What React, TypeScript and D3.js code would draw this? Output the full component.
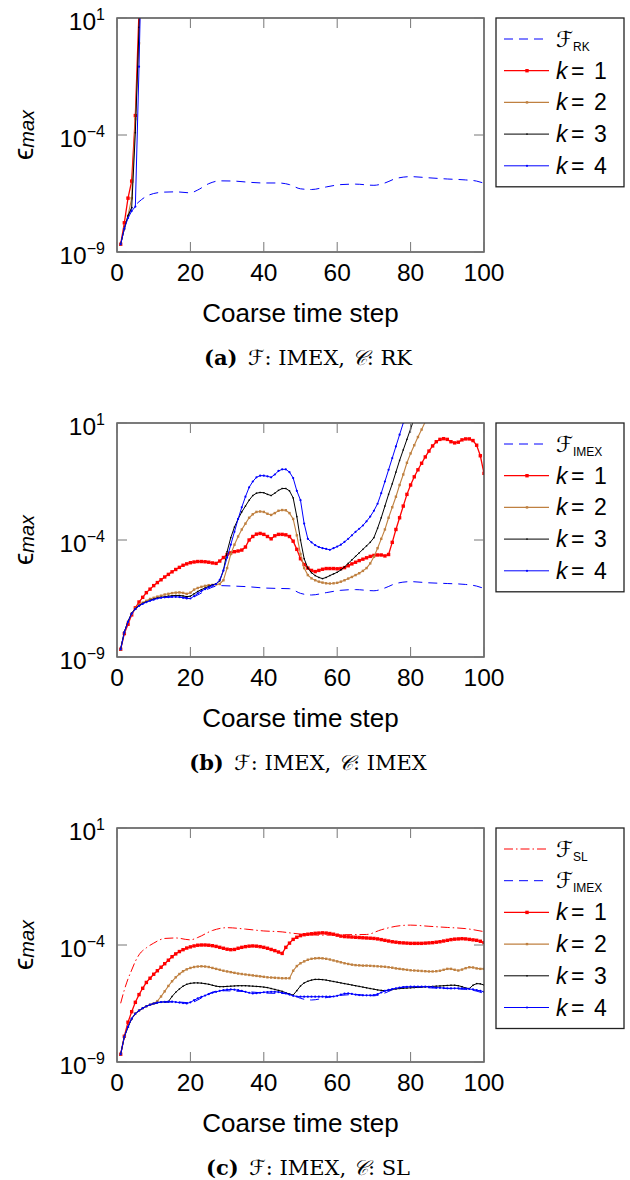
import React from "react";
import * as d3 from "d3";

// ---- data (values are log10 of eps_max) ----
const steps = d3.range(1, 101);
const xTicks = [0, 20, 40, 60, 80, 100];
const yTickExps = [1, -4, -9];

const fineSteps = [1, 2, 3, 4, 5, 6, 8, 10, 13, 16, 20, 22, 25, 28, 32, 36, 40, 44, 47, 50, 53, 57, 61, 65, 70, 73, 76, 80, 85, 90, 95, 98, 100];
const rkFineLog = [-8.67, -7.95, -7.5, -7.15, -7.0, -6.85, -6.62, -6.5, -6.44, -6.43, -6.47, -6.35, -6.08, -5.96, -5.97, -6.02, -6.05, -6.05, -6.12, -6.3, -6.33, -6.22, -6.12, -6.1, -6.15, -6.05, -5.86, -5.78, -5.83, -5.88, -5.92, -5.97, -6.06];
const imexFineLog = [-8.67, -7.95, -7.5, -7.15, -6.95, -6.82, -6.64, -6.52, -6.45, -6.43, -6.47, -6.35, -6.08, -5.95, -5.97, -6.0, -6.05, -6.07, -6.08, -6.28, -6.35, -6.25, -6.15, -6.12, -6.17, -6.05, -5.86, -5.78, -5.83, -5.86, -5.9, -5.97, -6.07];

const slFineSteps = [1, 2, 3, 4, 5, 6, 8, 10, 13, 16, 20, 22, 26, 30, 35, 40, 45, 48, 52, 56, 62, 68, 72, 76, 80, 85, 90, 95, 100];
const slFineLog = [-6.49, -5.92, -5.45, -5.07, -4.7, -4.42, -4.12, -3.92, -3.72, -3.7, -3.78, -3.68, -3.38, -3.26, -3.32, -3.4, -3.44, -3.5, -3.56, -3.58, -3.56, -3.55, -3.35, -3.2, -3.15, -3.2, -3.25, -3.3, -3.43];

// (a) coarse RK
const rkK1Log = [-8.67, -7.75, -6.7, -5.97, -3.17, 1.3];
const rkK2Log = [-8.67, -8.0, -7.45, -6.7, -3.32, -0.08, 6];
const rkK3Log = [-8.67, -8.0, -7.45, -7.1, -3.9, 0.6, 6];
const rkK4Log = [-8.67, -8.0, -7.55, -7.25, -7.06, -1.08, 6];

// (b) coarse IMEX
const imexK1Log = [
  -8.67, -8.0, -7.6, -7.2, -6.9, -6.65, -6.45, -6.25, -6.1, -5.95,
  -5.82, -5.7, -5.58, -5.47, -5.36, -5.26, -5.17, -5.08, -5.02, -4.97,
  -4.94, -4.92, -4.92, -4.93, -4.95, -4.98, -5.0, -4.9, -4.75, -4.62,
  -4.55, -4.5, -4.47, -4.43, -4.3, -4.0, -3.85, -3.75, -3.72, -3.76,
  -3.85, -3.95, -3.82, -3.76, -3.76, -3.78, -3.85, -4.05, -4.4, -4.8,
  -5.05, -5.2, -5.3, -5.35, -5.3, -5.25, -5.22, -5.22, -5.22, -5.23,
  -5.22, -5.18, -5.1, -5.02, -4.95, -4.88, -4.82, -4.76, -4.7, -4.66,
  -4.64, -4.64, -4.68, -4.62, -4.1, -3.55, -3.05, -2.55, -2.05, -1.65,
  -1.3, -1.0, -0.72, -0.45, -0.2, 0.02, 0.2, 0.3, 0.33, 0.3,
  0.2, 0.15, 0.18, 0.28, 0.32, 0.32, 0.25, 0.05, -0.4, -1.15,
];
const imexK2Log = [
  -8.67, -7.95, -7.5, -7.15, -6.93, -6.78, -6.68, -6.6, -6.52, -6.47,
  -6.42, -6.38, -6.33, -6.3, -6.27, -6.25, -6.24, -6.26, -6.3, -6.25,
  -6.12, -6.05, -6.0, -5.96, -5.93, -5.92, -5.9, -5.88, -5.72, -5.2,
  -4.6, -4.2, -3.85, -3.55, -3.3, -3.05, -2.9, -2.8, -2.78, -2.8,
  -2.88, -2.93, -2.85, -2.75, -2.72, -2.73, -2.85, -3.1, -3.8, -4.6,
  -5.2, -5.5, -5.64, -5.72, -5.78, -5.82, -5.85, -5.86, -5.85, -5.83,
  -5.78, -5.72, -5.65, -5.58, -5.5, -5.42, -5.32, -5.2, -5.0, -4.72,
  -4.35, -3.95, -3.55, -3.05, -2.6, -2.15, -1.65, -1.2, -0.7, -0.3,
  0.05, 0.4, 0.72, 1.05, 1.4,
];
const imexK3Log = [
  -8.65, -7.93, -7.48, -7.13, -6.93, -6.8, -6.71, -6.64, -6.58, -6.53,
  -6.48, -6.45, -6.42, -6.4, -6.38, -6.37, -6.37, -6.39, -6.42, -6.4,
  -6.3, -6.2, -6.12, -6.05, -5.98, -5.92, -5.87, -5.75, -5.3, -4.5,
  -3.9, -3.45, -3.1, -2.8, -2.55, -2.3, -2.1, -2.0, -1.97, -1.98,
  -2.05, -2.1, -2.0, -1.88, -1.8, -1.8, -1.9, -2.2, -3.0, -4.0,
  -4.8, -5.2, -5.4, -5.52, -5.6, -5.65, -5.6, -5.52, -5.45, -5.38,
  -5.28, -5.15, -5.0, -4.85, -4.7, -4.55, -4.4, -4.25, -4.1, -3.9,
  -3.5, -3.05, -2.55, -2.05, -1.6, -1.1, -0.6, -0.15, 0.3, 0.75,
  1.2,
];
const imexK4Log = [
  -8.67, -7.95, -7.5, -7.15, -6.95, -6.82, -6.73, -6.66, -6.6, -6.55,
  -6.5, -6.47, -6.45, -6.44, -6.43, -6.43, -6.44, -6.47, -6.5, -6.5,
  -6.4, -6.28, -6.18, -6.1, -6.02, -5.95, -5.88, -5.7, -5.3, -4.75,
  -4.2, -3.65, -3.1, -2.6, -2.15, -1.75, -1.5, -1.32, -1.25, -1.25,
  -1.28, -1.32, -1.2, -1.05, -0.98, -0.98, -1.1, -1.35, -1.9, -2.3,
  -3.3, -3.95, -4.1, -4.22, -4.3, -4.35, -4.38, -4.42, -4.35, -4.28,
  -4.2, -4.08, -3.95, -3.8, -3.65, -3.52, -3.38, -3.2, -3.0, -2.75,
  -2.45, -2.0, -1.5, -1.0, -0.5, 0.0, 0.5, 1.0, 1.5,
];

// (c) coarse SL
const slK1Log = [
  -8.67, -7.9, -7.3, -6.85, -6.45, -6.12, -5.85, -5.6, -5.42, -5.25,
  -5.1, -4.95, -4.8, -4.65, -4.5, -4.38, -4.28, -4.2, -4.13, -4.08,
  -4.04, -4.01, -4.0, -4.0, -4.01, -4.03, -4.06, -4.1, -4.14, -4.18,
  -4.2, -4.19, -4.14, -4.1, -4.07, -4.05, -4.04, -4.05, -4.07, -4.1,
  -4.14, -4.19, -4.24, -4.3, -4.36, -4.1, -3.92, -3.76, -3.67, -3.6,
  -3.56, -3.54, -3.52, -3.5, -3.49, -3.48, -3.49, -3.51, -3.54, -3.58,
  -3.62, -3.64, -3.65, -3.66, -3.67, -3.68, -3.69, -3.7, -3.71, -3.72,
  -3.74, -3.77, -3.8, -3.83, -3.86, -3.88, -3.9, -3.91, -3.92, -3.93,
  -3.93, -3.93, -3.93, -3.92, -3.91, -3.9, -3.88, -3.86, -3.83, -3.8,
  -3.77, -3.75, -3.74, -3.73, -3.74, -3.76, -3.78, -3.8, -3.84, -3.9,
];
const slK2Log = [
  -8.67, -7.92, -7.5, -7.15, -6.93, -6.8, -6.7, -6.62, -6.55, -6.5,
  -6.4, -6.2, -5.98, -5.75, -5.55, -5.38, -5.24, -5.12, -5.04, -4.98,
  -4.94, -4.92, -4.91, -4.92, -4.94, -4.98, -5.02, -5.06, -5.1, -5.13,
  -5.16, -5.19, -5.22, -5.24, -5.26, -5.28, -5.3, -5.32, -5.34, -5.36,
  -5.38, -5.39, -5.4, -5.41, -5.42, -5.42, -5.42, -5.1, -4.9, -4.78,
  -4.7, -4.63, -4.59, -4.57, -4.56, -4.57, -4.59, -4.62, -4.66, -4.7,
  -4.74, -4.78, -4.81, -4.84, -4.86, -4.87, -4.88, -4.88, -4.89, -4.9,
  -4.91, -4.92, -4.93, -4.95, -4.97, -5.0, -5.02, -5.04, -5.06, -5.08,
  -5.09, -5.1, -5.11, -5.12, -5.13, -5.13, -5.12, -5.1, -5.06, -5.02,
  -5.02, -5.06, -5.09, -5.05, -4.99, -4.95, -4.96, -5.0, -5.02, -5.02,
];
const slK3Log = [
  -8.67, -7.92, -7.5, -7.15, -6.93, -6.8, -6.7, -6.62, -6.55, -6.5,
  -6.46, -6.44, -6.43, -6.42, -6.2, -6.02, -5.88, -5.76, -5.68, -5.64,
  -5.62, -5.62, -5.63, -5.65, -5.68, -5.72, -5.76, -5.78, -5.78, -5.77,
  -5.76, -5.75, -5.74, -5.74, -5.74, -5.75, -5.76, -5.77, -5.78, -5.8,
  -5.82, -5.86, -5.9, -5.94, -5.98, -6.04, -6.1, -6.14, -5.95, -5.75,
  -5.62, -5.55, -5.5, -5.47, -5.47, -5.48, -5.5, -5.53, -5.56, -5.59,
  -5.62, -5.65, -5.68, -5.71, -5.74, -5.77, -5.8, -5.83, -5.86, -5.89,
  -5.92, -5.94, -5.95, -5.93, -5.9, -5.88, -5.86, -5.85, -5.84, -5.83,
  -5.82, -5.81, -5.8, -5.79, -5.78, -5.77, -5.76, -5.75, -5.74, -5.73,
  -5.72, -5.72, -5.74, -5.78, -5.84, -5.86, -5.72, -5.65, -5.66, -5.71,
];
const slK4Log = [
  -8.67, -7.92, -7.5, -7.15, -6.93, -6.8, -6.7, -6.62, -6.55, -6.5,
  -6.46, -6.44, -6.43, -6.42, -6.42, -6.44, -6.46, -6.48, -6.5, -6.45,
  -6.36, -6.28, -6.22, -6.16, -6.1, -6.04, -6.0, -5.96, -5.93, -5.91,
  -5.9, -5.91, -5.93, -5.96, -6.0, -6.04, -6.07, -6.06, -6.04, -6.02,
  -6.01, -6.0, -6.0, -6.01, -6.04, -6.07, -6.12, -6.17, -6.2, -6.21,
  -6.21, -6.21, -6.21, -6.21, -6.21, -6.21, -6.21, -6.21, -6.2, -6.17,
  -6.12, -6.08, -6.07, -6.09, -6.12, -6.14, -6.15, -6.15, -6.15, -6.14,
  -6.1, -6.03, -5.96, -5.92, -5.88, -5.85, -5.82, -5.8, -5.79, -5.78,
  -5.78, -5.78, -5.78, -5.78, -5.79, -5.8, -5.82, -5.83, -5.84, -5.85,
  -5.85, -5.85, -5.85, -5.85, -5.86, -5.88, -5.9, -5.93, -5.96, -6.0,
];

// ---- layout ----
const PL = 117;
const PR = 484;
const PH = 234;
const SANS = "'Liberation Sans', Arial, Helvetica, sans-serif";
const SERIF = "'DejaVu Serif', 'Liberation Serif', serif";
const SCRIPT = "'DejaVu Sans', 'DejaVu Serif', serif";
const RED = "#ff0000";
const BROWN = "#bf8040";
const BLUE = "#0000ff";

type Style = { color: string; width: number; dash?: string; marker?: "sq" | "dot"; ms?: number };
type Series = { xs: number[]; ys: number[]; style: Style; curve?: boolean };

const kStyles: Style[] = [
  { color: RED, width: 1.3, marker: "sq", ms: 3.4 },
  { color: BROWN, width: 1.1, marker: "sq", ms: 2.4 },
  { color: "#000", width: 1, marker: "sq", ms: 1.4 },
  { color: BLUE, width: 1, marker: "dot", ms: 2.2 },
];
const fineDash: Style = { color: BLUE, width: 1, dash: "9 6" };
const slDash: Style = { color: RED, width: 1, dash: "9 3 1.5 3" };

const kSeries = (arrs: number[][]): Series[] =>
  arrs.map((ys, i) => ({ xs: steps.slice(0, ys.length), ys, style: kStyles[i] }));

const Marker = ({ cx, cy, s }: { cx: number; cy: number; s: Style }) =>
  s.marker === "sq" ? (
    <rect x={cx - s.ms! / 2} y={cy - s.ms! / 2} width={s.ms} height={s.ms} fill={s.color} />
  ) : (
    <circle cx={cx} cy={cy} r={s.ms! / 2} fill={s.color} />
  );

const FLabel = ({ x, y, sub }: { x: number; y: number; sub: string }) => (
  <text y={y} fontSize={22} fontFamily={SANS}>
    <tspan x={x} fontFamily={SCRIPT} fontStyle="italic">ℱ</tspan>
    <tspan x={x + 17} dy={4} fontSize={12}>{sub}</tspan>
  </text>
);

const KLabel = ({ x, y, k }: { x: number; y: number; k: number }) => (
  <text y={y} fontSize={23} fontFamily={SANS}>
    <tspan x={x} fontStyle="italic">k</tspan>
    <tspan x={x + 15}>=</tspan>
    <tspan x={x + 38}>{k}</tspan>
  </text>
);

type LegendItem = { style: Style; fine?: string; k?: number };

const Panel = ({ idx, top, series, legend, caption }: { idx: number; top: number; series: Series[]; legend: LegendItem[]; caption: React.ReactNode }) => {
  const x = d3.scaleLinear().domain([0, 100]).range([PL, PR]);
  const y = d3.scaleLog().domain([1e-9, 10]).range([top + PH, top]);
  const clipId = `clip-${idx}`;
  const lx = 496;
  const lw = 128;
  const step = 31.7;
  const lh = 42 + (legend.length - 1) * step;

  return (
    <g>
      <defs>
        <clipPath id={clipId}>
          <rect x={PL} y={top} width={PR - PL} height={PH} />
        </clipPath>
      </defs>
      <g clipPath={`url(#${clipId})`}>
        {series.map((s, i) => {
          const pts: [number, number][] = s.xs.map((v, j) => [x(v), y(10 ** s.ys[j])]);
          const gen = d3.line().curve(s.curve ? d3.curveMonotoneX : d3.curveLinear);
          return (
            <g key={i}>
              <path d={gen(pts) || ""} fill="none" stroke={s.style.color} strokeWidth={s.style.width} strokeDasharray={s.style.dash} />
              {s.style.marker && pts.map((p, j) => <Marker key={j} cx={p[0]} cy={p[1]} s={s.style} />)}
            </g>
          );
        })}
      </g>

      {/* frame and ticks */}
      <rect x={PL} y={top} width={PR - PL} height={PH} fill="none" stroke="#444" strokeWidth={1.4} />
      {xTicks.map((t) => (
        <g key={t} stroke="#777" strokeWidth={1}>
          <line x1={x(t)} x2={x(t)} y1={top + PH} y2={top + PH - 10} />
          <line x1={x(t)} x2={x(t)} y1={top} y2={top + 10} />
        </g>
      ))}
      {yTickExps.map((e) => (
        <g key={e} stroke="#777" strokeWidth={1}>
          <line x1={PL} x2={PL + 10} y1={y(10 ** e)} y2={y(10 ** e)} />
          <line x1={PR} x2={PR - 10} y1={y(10 ** e)} y2={y(10 ** e)} />
        </g>
      ))}

      {/* tick labels */}
      {xTicks.map((t) => (
        <text key={t} x={x(t)} y={top + 263} textAnchor="middle" fontSize={24.5} fontFamily={SANS}>{t}</text>
      ))}
      {yTickExps.map((e) => (
        <text key={e} x={105} y={y(10 ** e) + 12} textAnchor="end" fontSize={24.5} fontFamily={SANS}>
          <tspan>10</tspan>
          <tspan dy={-10} fontSize={16}>{e < 0 ? `−${-e}` : e}</tspan>
        </text>
      ))}

      {/* axis labels */}
      <text x={(PL + PR) / 2} y={top + 304} textAnchor="middle" fontSize={26} fontFamily={SANS}>Coarse time step</text>
      <text transform={`translate(33, ${top + PH / 2}) rotate(-90)`} textAnchor="middle" fontFamily={SANS}>
        <tspan fontSize={28}>ϵ</tspan>
        <tspan fontSize={20} fontStyle="italic" dy={1}>max</tspan>
      </text>

      {/* legend */}
      <rect x={lx} y={top} width={lw} height={lh} fill="#fff" stroke="#222" strokeWidth={1.3} />
      {legend.map((it, i) => {
        const ly = top + 21 + i * step;
        return (
          <g key={i}>
            <line x1={504} x2={549} y1={ly} y2={ly} stroke={it.style.color} strokeWidth={it.style.width} strokeDasharray={it.style.dash} />
            {it.style.marker && <Marker cx={527} cy={ly} s={it.style} />}
            {it.fine ? <FLabel x={556} y={ly + 7.5} sub={it.fine} /> : <KLabel x={556} y={ly + 8} k={it.k!} />}
          </g>
        );
      })}

      {/* caption */}
      <text x={308} y={top + 347} textAnchor="middle" fontSize={21} fontFamily={SERIF}>
        {caption}
      </text>
    </g>
  );
};

const kLegend: LegendItem[] = kStyles.map((s, i) => ({ style: s, k: i + 1 }));

const Caption = ({ tag, coarse }: { tag: string; coarse: string }) => (
  <>
    <tspan fontWeight="bold">({tag})</tspan>
    <tspan>{"\u2002"}</tspan>
    <tspan fontStyle="italic" fontFamily={SCRIPT}>ℱ</tspan>
    <tspan>: IMEX, </tspan>
    <tspan fontStyle="italic" fontFamily={SCRIPT}>𝒞</tspan>
    <tspan>: {coarse}</tspan>
  </>
);

export default function App() {
  return (
    <svg width={630} height={1180} style={{ position: "absolute", left: 0, top: 0, background: "#fff" }}>
      <Panel
        idx={0}
        top={18}
        series={[{ xs: fineSteps, ys: rkFineLog, style: fineDash, curve: true }, ...kSeries([rkK1Log, rkK2Log, rkK3Log, rkK4Log])]}
        legend={[{ style: fineDash, fine: "RK" }, ...kLegend]}
        caption={<Caption tag="a" coarse="RK" />}
      />
      <Panel
        idx={1}
        top={423}
        series={[{ xs: fineSteps, ys: imexFineLog, style: fineDash, curve: true }, ...kSeries([imexK1Log, imexK2Log, imexK3Log, imexK4Log])]}
        legend={[{ style: fineDash, fine: "IMEX" }, ...kLegend]}
        caption={<Caption tag="b" coarse="IMEX" />}
      />
      <Panel
        idx={2}
        top={828}
        series={[
          { xs: slFineSteps, ys: slFineLog, style: slDash, curve: true },
          { xs: fineSteps, ys: imexFineLog, style: fineDash, curve: true },
          ...kSeries([slK1Log, slK2Log, slK3Log, slK4Log]),
        ]}
        legend={[{ style: slDash, fine: "SL" }, { style: fineDash, fine: "IMEX" }, ...kLegend]}
        caption={<Caption tag="c" coarse="SL" />}
      />
    </svg>
  );
}
